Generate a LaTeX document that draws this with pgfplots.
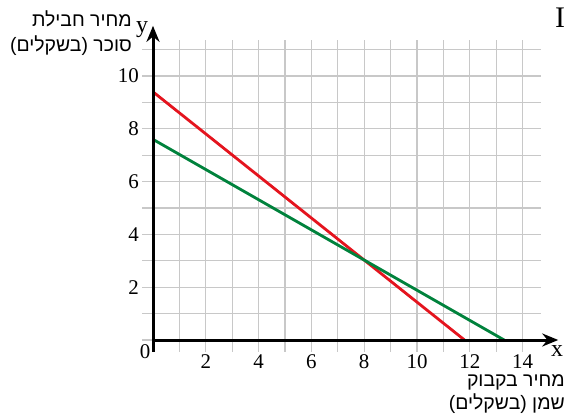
\documentclass[border=0pt]{standalone}
\usepackage{fontspec}
\setmainfont{Liberation Serif}
\newfontfamily\hebfont[Script=Hebrew]{Liberation Sans}
\TeXXeTstate=1
\usepackage{pgfplots}
\pgfplotsset{compat=1.18}
\usetikzlibrary{arrows.meta}

\definecolor{redline}{RGB}{228,20,30}
\definecolor{greenline}{RGB}{0,130,60}
\definecolor{gridgray}{RGB}{200,200,200}

\begin{document}
\begin{tikzpicture}
\begin{axis}[
    anchor=origin,
    x=26.4bp, y=26.4bp,
    xmin=-0.4, xmax=14.7,
    ymin=-0.45, ymax=11.35,
    axis line style={draw=none},
    major tick length=0pt, minor tick length=0pt,
    xtick={2,4,...,14}, ytick={2,4,...,10},
    minor xtick={0,1,3,5,7,9,11,13},
    minor ytick={0,1,3,5,7,9,11},
    grid=both,
    major grid style={gridgray, line width=1.1bp},
    minor grid style={gridgray, line width=1.1bp},
    ticklabel style={font=\fontsize{21}{21}\selectfont},
    xticklabel style={yshift=1bp},
    /pgf/number format/assume math mode=true,
    clip=false,
]
\addplot[redline, line width=2.8bp] coordinates {(0,9.4) (11.8,0)};
\addplot[greenline, line width=2.8bp] coordinates {(0,7.6) (13.3,0)};
\draw[line width=3bp, -{Stealth[length=16bp,width=13bp]}] (axis cs:0,0) -- (axis cs:15.35,0);
\draw[line width=3bp, -{Stealth[length=16bp,width=13bp]}] (axis cs:0,-0.45) -- (axis cs:0,11.9);
\end{axis}
\node[font=\fontsize{21}{21}\selectfont] at (-8bp,-12bp) {0};
\node[font=\fontsize{24}{24}\selectfont] at (404bp,-11bp) {x};
\node[font=\fontsize{24}{24}\selectfont] at (-11bp,310bp) {y};
\node[font=\fontsize{30}{30}\selectfont] at (407bp,322bp) {I};
\node[anchor=east, align=right, inner sep=0pt, font=\hebfont\fontsize{19.5}{25}\selectfont]
    at (-21bp,307bp) {\beginR מחיר חבילת\endR\\\beginR סוכר (בשקלים)\endR};
\node[anchor=east, align=right, inner sep=0pt, font=\hebfont\fontsize{19.5}{23}\selectfont]
    at (412bp,-54bp) {\beginR מחיר בקבוק\endR\\\beginR שמן (בשקלים)\endR};
\pgfresetboundingbox
\path[use as bounding box] (-153bp,-75bp) rectangle (420bp,340bp);
\end{tikzpicture}
\end{document}
